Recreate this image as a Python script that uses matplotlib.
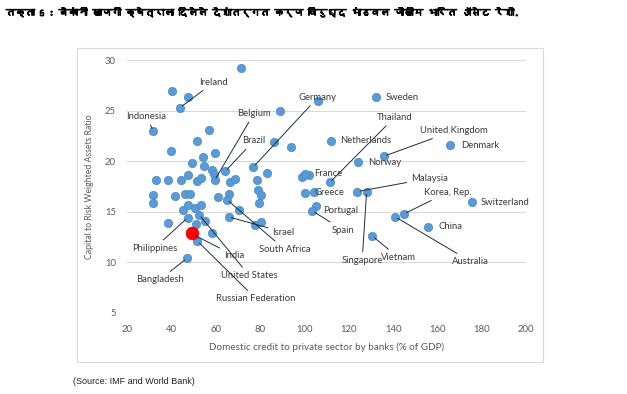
import matplotlib
matplotlib.use("Agg")
import matplotlib.pyplot as plt
from matplotlib import font_manager as fm
from matplotlib.patches import Rectangle
import matplotlib.patheffects as pe

# ---------------- data ----------------
labeled_names = ["Ireland", "Indonesia", "Belgium", "Brazil", "Germany", "Sweden",
                 "Thailand", "Netherlands", "United Kingdom", "Denmark", "Norway",
                 "France", "Greece", "Malaysia", "Korea, Rep.", "Switzerland", "China",
                 "Australia", "Vietnam", "Singapore", "Portugal", "Spain", "Israel",
                 "South Africa", "India", "United States", "Russian Federation",
                 "Philippines", "Bangladesh"]
labeled_x = [44.0, 31.9, 59.5, 64.3, 76.9, 132.2, 111.5, 111.9, 136.0, 165.8, 124.2,
             100.2, 104.3, 123.9, 145.0, 175.5, 156.0, 141.0, 130.7, 128.1, 105.1, 103.6,
             65.8, 65.1, 49.5, 52.6, 51.8, 47.3, 47.0]
labeled_y = [25.3, 23.0, 18.1, 19.0, 19.4, 26.3, 17.9, 22.0, 20.5, 21.6, 19.9,
             18.7, 17.0, 17.0, 14.8, 16.0, 13.5, 14.5, 12.6, 17.0, 15.6, 15.1,
             14.5, 16.2, 12.8, 14.7, 12.1, 14.4, 10.4]

other_x = [71.4, 40.5, 47.5, 57.2, 51.5, 39.9, 59.8, 54.1, 49.5, 54.6, 58.2, 59.2,
           89.2, 106.0, 86.2, 94.1, 83.2, 78.5, 33.0, 38.4, 44.2, 47.3, 51.5, 53.5,
           66.4, 68.6, 79.0, 80.5, 79.7, 99.0, 102.1, 100.2, 31.9, 31.9, 41.6, 46.3,
           48.6, 61.2, 65.8, 45.2, 47.7, 50.6, 53.6, 70.6, 38.7, 51.0, 55.4, 77.9,
           80.6, 58.3]
other_y = [29.2, 26.9, 26.3, 23.1, 22.0, 21.0, 20.8, 20.4, 19.8, 19.5, 19.1, 18.7,
           25.0, 25.9, 21.9, 21.4, 18.8, 18.1, 18.1, 18.1, 18.1, 18.6, 18.0, 18.3,
           17.9, 18.2, 17.2, 16.7, 15.9, 18.4, 18.6, 16.9, 16.7, 15.9, 16.6, 16.8,
           16.8, 16.5, 16.8, 15.2, 15.7, 15.4, 15.7, 15.2, 13.9, 13.8, 14.1, 13.7,
           14.0, 12.9]

nepal_x = [49.3]
nepal_y = [12.9]

x_ticks = [20, 40, 60, 80, 100, 120, 140, 160, 180, 200]
y_ticks = [5, 10, 15, 20, 25, 30]

title = "तक्ता 6 : बँकांनी खाजगी क्षेत्राला दिलेले देशांतर्गत कर्ज विरुध्द भांडवल जोखीम भारित ॲसेट रेशो."
x_label = "Domestic credit to private sector by banks (% of GDP)"
y_label = "Capital to Risk Weighted Assets Ratio"
source = "(Source: IMF and World Bank)"

# label placement (layout): text position, horizontal alignment, leader line
label_layout = {
    "Ireland": ((52.7, 27.8), "left", True),
    "Indonesia": ((28.6, 24.4), "center", True),
    "Belgium": ((69.6, 24.7), "left", True),
    "Brazil": ((71.9, 22.0), "left", True),
    "Germany": ((97.5, 26.3), "left", True),
    "Sweden": ((136.7, 26.3), "left", False),
    "Thailand": ((132.5, 24.3), "left", True),
    "Netherlands": ((116.0, 22.0), "left", False),
    "United Kingdom": ((152.1, 23.0), "left", True),
    "Denmark": ((170.7, 21.6), "left", False),
    "Norway": ((128.9, 19.9), "left", False),
    "France": ((104.3, 18.8), "left", False),
    "Greece": ((104.8, 16.9), "left", False),
    "Malaysia": ((148.0, 18.3), "left", True),
    "Korea, Rep.": ((153.8, 16.9), "left", True),
    "Switzerland": ((179.7, 15.9), "left", False),
    "China": ((160.5, 13.5), "left", False),
    "Australia": ((166.6, 10.1), "left", True),
    "Vietnam": ((134.5, 10.5), "left", True),
    "Singapore": ((126.1, 10.2), "center", True),
    "Portugal": ((108.6, 15.1), "left", False),
    "Spain": ((112.2, 13.2), "left", True),
    "Israel": ((85.5, 13.0), "left", True),
    "South Africa": ((79.4, 11.3), "left", True),
    "India": ((63.6, 10.7), "left", True),
    "United States": ((62.4, 8.7), "left", True),
    "Russian Federation": ((60.3, 6.4), "left", True),
    "Philippines": ((42.5, 11.4), "right", True),
    "Bangladesh": ((34.9, 8.3), "center", True),
}

# ---------------- fonts ----------------
deva_font = None
try:
    from fontTools.ttLib import TTFont
    for f in fm.fontManager.ttflist:
        try:
            tt = TTFont(f.fname, fontNumber=0, lazy=True)
            cmap = tt.getBestCmap()
            if cmap and 0x0915 in cmap and 0x0916 in cmap:
                deva_font = f.name
                break
        except Exception:
            pass
except Exception:
    pass
title_family = [deva_font, "DejaVu Sans"] if deva_font else ["DejaVu Sans"]

chart_font = "Lato"
plt.rcParams["font.family"] = [chart_font, "DejaVu Sans"]

# ---------------- figure ----------------
W, H = 627, 394
fig = plt.figure(figsize=(W / 100, H / 100), dpi=100)

# chart frame
fig.patches.append(Rectangle((77 / W, 1 - 362 / H), (543 - 77) / W, (362 - 48) / H,
                             transform=fig.transFigure, fill=False,
                             edgecolor="#D9D9D9", linewidth=0.8))

ax = fig.add_axes([127 / W, 1 - 313 / H, (526 - 127) / W, (313 - 60) / H])
ax.set_xlim(20, 200)
ax.set_ylim(5, 30)
ax.set_xticks(x_ticks)
ax.set_yticks(y_ticks)
for s in ax.spines.values():
    s.set_visible(False)
ax.grid(axis="y", color="#D9D9D9", linewidth=0.75)
ax.set_axisbelow(True)
ax.tick_params(length=0, labelsize=6.8, labelcolor="#595959")
ax.tick_params(axis="y", pad=8)
ax.tick_params(axis="x", pad=9)
ax.set_xlabel(x_label, fontsize=7.1, color="#595959", labelpad=6)
ax.set_ylabel(y_label, fontsize=6.3, color="#595959", labelpad=8)

blue = "#5B9BD5"
ax.scatter(other_x, other_y, s=36, color=blue, edgecolors="#4A88C8", linewidths=0.5, zorder=3)
ax.scatter(labeled_x, labeled_y, s=36, color=blue, edgecolors="#4A88C8", linewidths=0.5, zorder=3)
ax.scatter(nepal_x, nepal_y, s=85, color="#FF0000", edgecolors="#E00000", linewidths=0.5, zorder=4)

for name, px, py in zip(labeled_names, labeled_x, labeled_y):
    (tx, ty), ha, leader = label_layout[name]
    if leader:
        ax.annotate(name, xy=(px, py), xytext=(tx, ty), ha=ha, va="center",
                    fontsize=6.8, color="#3A3A3A", zorder=5,
                    arrowprops=dict(arrowstyle="-", color="#1F2A44", lw=0.7,
                                    shrinkA=1, shrinkB=2))
    else:
        ax.text(tx, ty, name, ha=ha, va="center", fontsize=6.8, color="#3A3A3A", zorder=5)

t = fig.text(6 / W, 1 - 12 / H, title, fontsize=10.5, fontweight="bold",
             family=title_family, ha="left", va="center", color="black",
             path_effects=[pe.withStroke(linewidth=0.7, foreground="black")])
# fit the title into the width it occupies in the reference
renderer = fig.canvas.get_renderer()
target_w = 512
for _ in range(3):
    w = t.get_window_extent(renderer).width
    if w > 0:
        t.set_fontsize(t.get_fontsize() * target_w / w)

fig.text(73 / W, 1 - 381 / H, source, fontsize=6.5, family=["Liberation Sans", "DejaVu Sans"],
         ha="left", va="center", color="#222222")

fig.savefig("out.png", dpi=100)
